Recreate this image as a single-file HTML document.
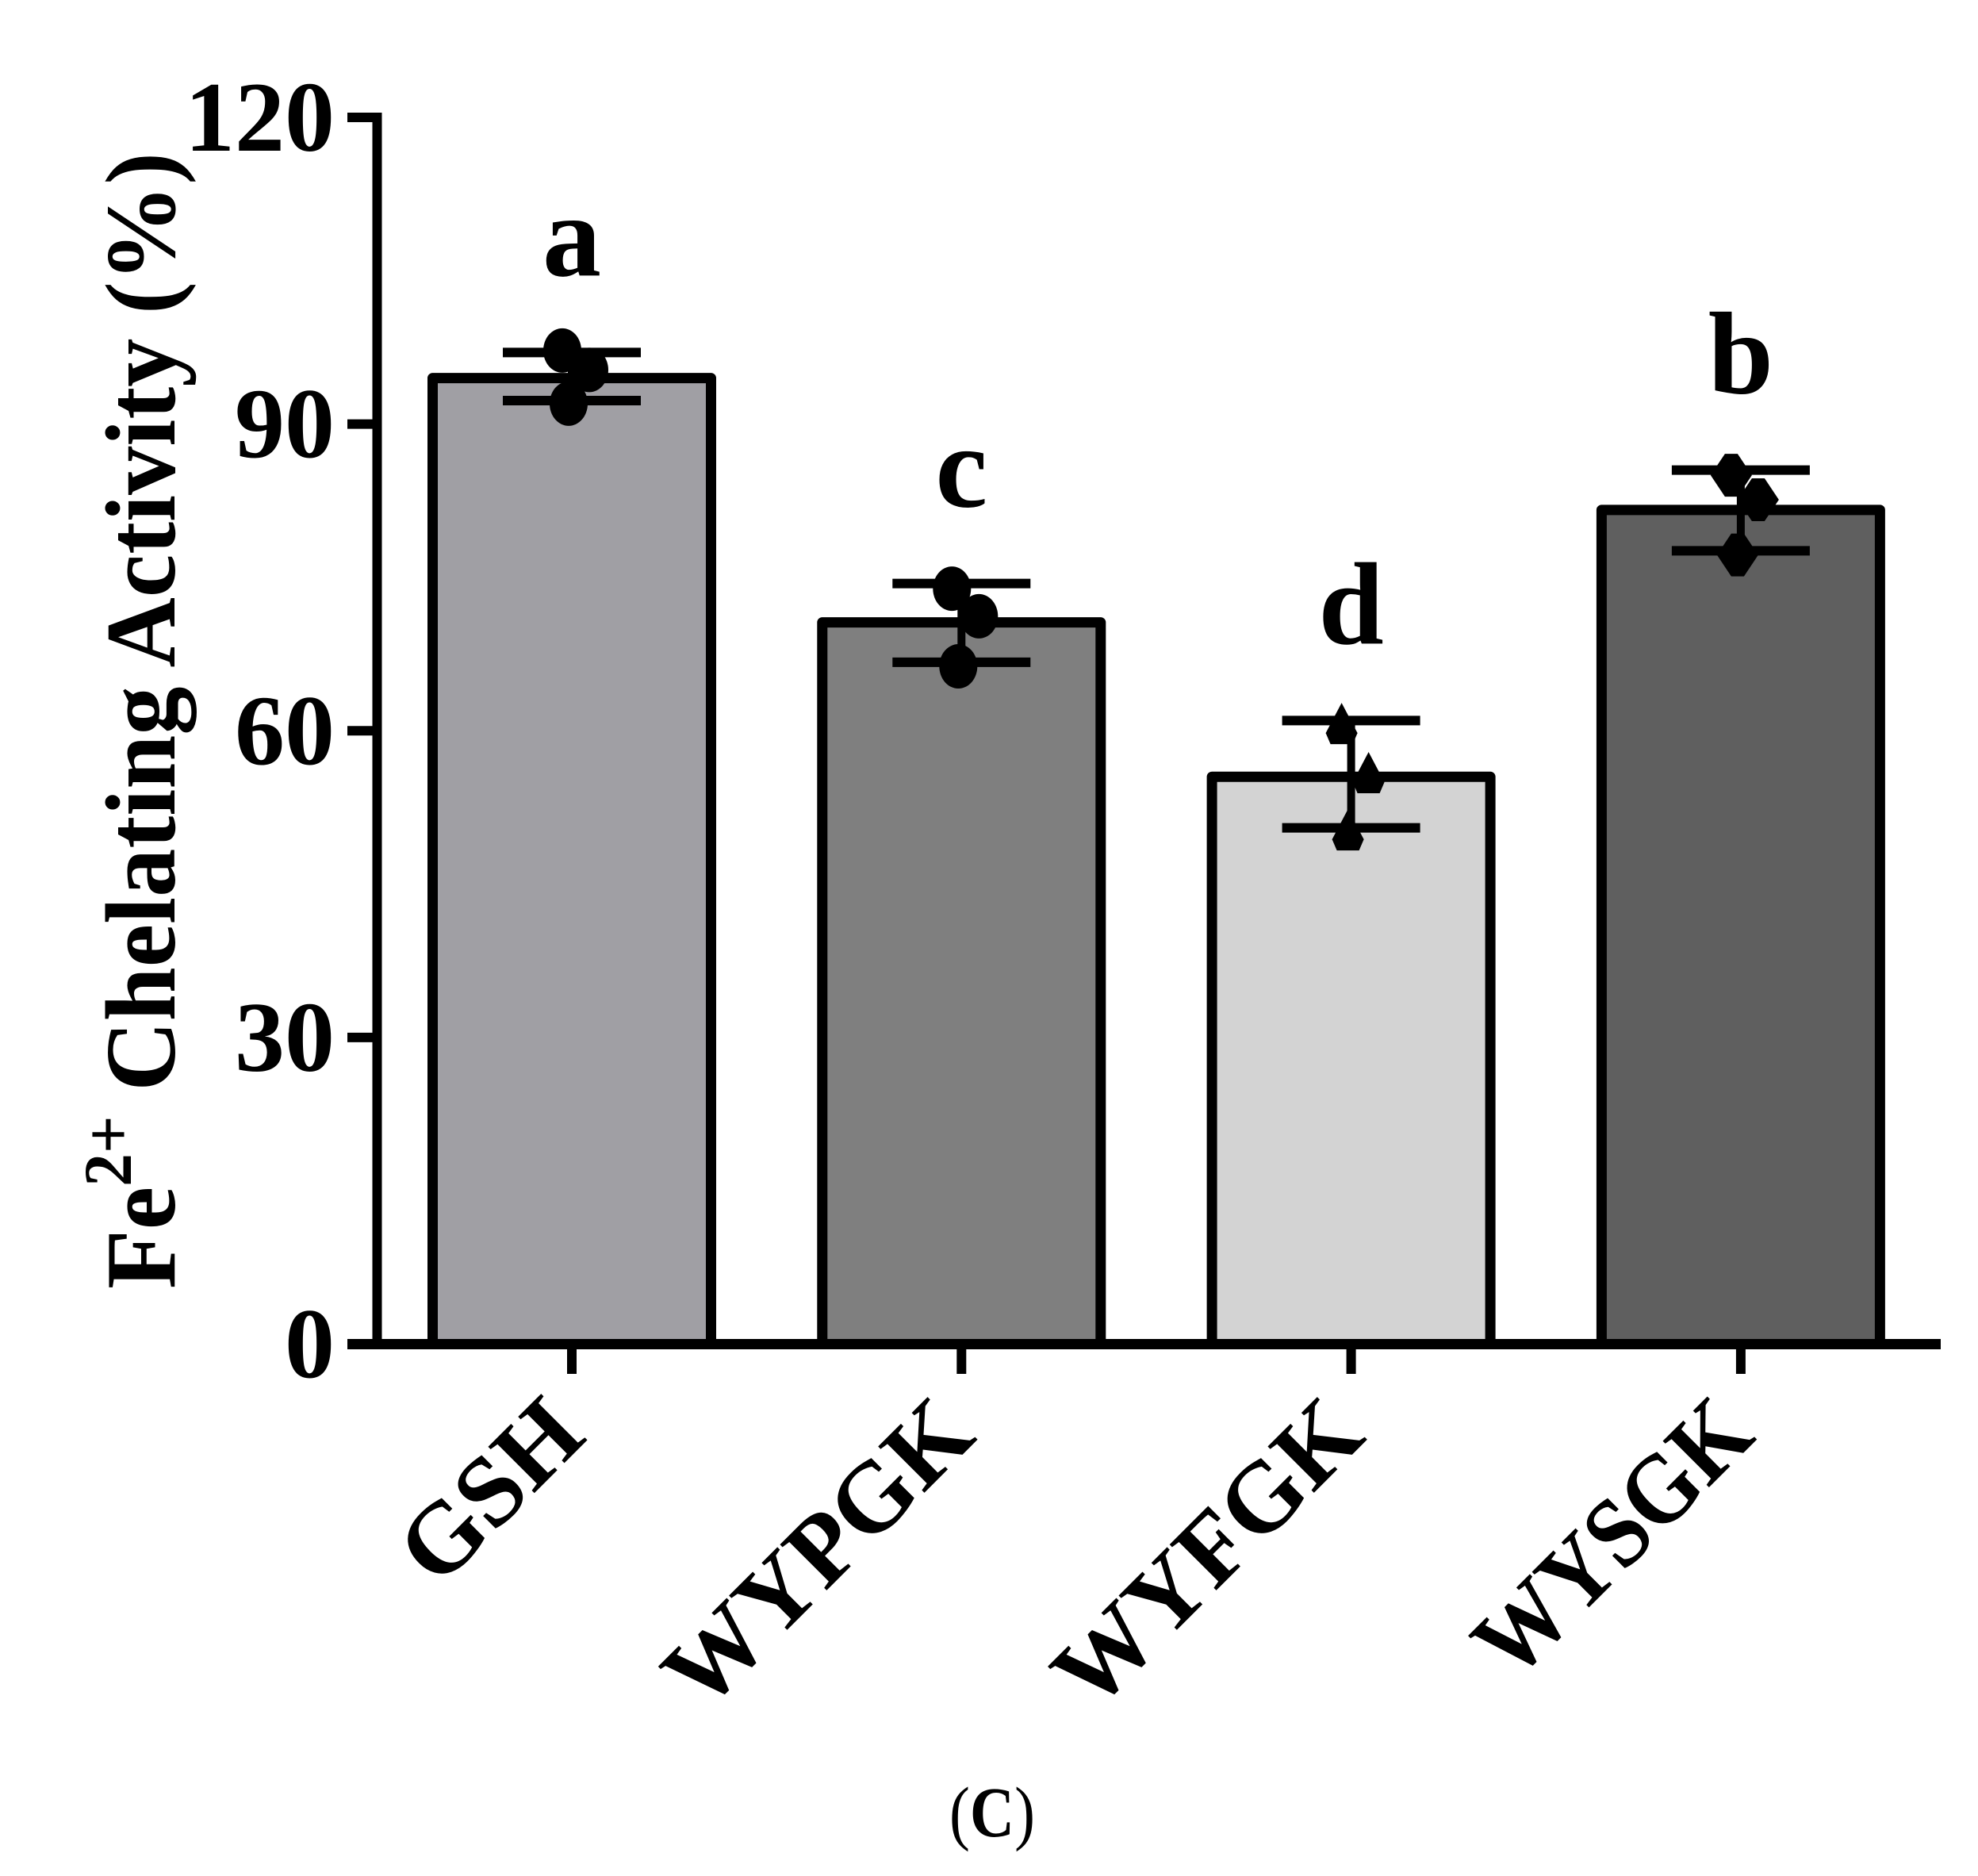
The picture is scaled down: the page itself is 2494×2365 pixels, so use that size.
<!DOCTYPE html>
<html><head><meta charset="utf-8"><style>
html,body{margin:0;padding:0;background:#fff;}
svg{display:block;}
text{font-family:"Liberation Serif","Times New Roman",Times,serif;font-weight:bold;fill:#000;}
</style></head><body>
<svg id="chart" width="2494" height="2365" viewBox="0 0 2494 2365" xmlns="http://www.w3.org/2000/svg">
<g id="axes"></g>
<g id="bars"></g>
<g id="labels"></g>
<text font-family="Liberation Serif, serif" transform="translate(220,1625) rotate(-90)" font-size="126" textLength="1433" lengthAdjust="spacingAndGlyphs">Fe<tspan font-size="86" dy="-55">2+</tspan><tspan dy="55"> Chelating Activity (%)</tspan></text>
<text font-family="Liberation Serif, serif" x="1251" y="2315" font-size="90" text-anchor="middle" textLength="108" lengthAdjust="spacingAndGlyphs"><tspan font-weight="normal">(</tspan>C<tspan font-weight="normal">)</tspan></text>
</svg>
<script>
const categories = ["GSH", "WYPGK", "WYFGK", "WYSGK"];
const means = [94.5, 70.6, 55.5, 81.6];
const errUpper = [97.0, 74.4, 61.0, 85.5];
const errLower = [92.3, 66.7, 50.5, 77.6];
const points1 = [97.2, 73.9, 60.4, 85.0];
const points2 = [95.3, 71.2, 55.6, 82.6];
const points3 = [92.0, 66.3, 50.0, 77.2];
const letters = ["a", "c", "d", "b"];
const yTicks = [0, 30, 60, 90, 120];
const fills = ["#a09fa4", "#7f7f7f", "#d3d3d3", "#5f5f5f"];
const catWidths = [268, 490, 490, 435];

const NS = "http://www.w3.org/2000/svg";
const y0 = 1694.5, y120 = 148;
function yScale(v){ return y0 - (y0 - y120) * v / 120; }
function xScale(i){ return 721 + i * 491.3; }
function mk(tag, attrs, parent){ const e = document.createElementNS(NS, tag); for (const k in attrs) e.setAttribute(k, attrs[k]); parent.appendChild(e); return e; }

const axes = document.getElementById("axes");
const bars = document.getElementById("bars");
const labels = document.getElementById("labels");

let yl = mk("line", {x1:475.5, y1:y120-6, x2:475.5, y2:y0+6, stroke:"#000", "stroke-width":12}, axes);


yTicks.forEach(t => {
  const y = yScale(t);
  const tk = mk("line", {x1:438, y1:y, x2:476, y2:y, stroke:"#000", "stroke-width":12}, axes);
  
  
  const s = String(t);
  const lb = mk("text", {x:422, y:y+42, "font-size":126, "text-anchor":"end", textLength:63*s.length, lengthAdjust:"spacingAndGlyphs"}, axes);
  lb.textContent = s;
  
  
});
let xl = mk("line", {x1:438, y1:y0, x2:2447, y2:y0, stroke:"#000", "stroke-width":13}, axes);



categories.forEach((c, i) => {
  const cx = xScale(i);
  const top = yScale(means[i]);
  const r = mk("rect", {x:cx-175.5, y:top, width:351, height:y0-top, fill:fills[i], stroke:"#000", "stroke-width":13, "stroke-linejoin":"round"}, bars);
  
  

  const tk = mk("line", {x1:cx, y1:y0, x2:cx, y2:1732, stroke:"#000", "stroke-width":12}, axes);
  
  

  const eu = yScale(errUpper[i]), el = yScale(errLower[i]);
  const ev = mk("line", {x1:cx, y1:eu, x2:cx, y2:el, stroke:"#000", "stroke-width":10}, bars);
  
  
  [eu, el].forEach(yy => {
    const cap = mk("line", {x1:cx-87, y1:yy, x2:cx+87, y2:yy, stroke:"#000", "stroke-width":12}, bars);
    
    
  });

  const pts = [[points1[i], -12], [points2[i], 22], [points3[i], -4]];
  pts.forEach(p => {
    const px = cx + p[1], py = yScale(p[0]);
    let m;
    if (i <= 1) {
      m = mk("ellipse", {cx:px, cy:py, rx:24, ry:28, fill:"#000"}, bars);
    } else if (i === 2) {
      m = mk("polygon", {points:`${px},${py-30} ${px+20},${py+8} ${px+14},${py+22} ${px-14},${py+22} ${px-20},${py+8}`, fill:"#000"}, bars);
    } else {
      m = mk("polygon", {points:`${px-8},${py-27} ${px+8},${py-27} ${px+26},${py} ${px+8},${py+27} ${px-8},${py+27} ${px-26},${py}`, fill:"#000"}, bars);
    }
    
    
  });

  const lt = mk("text", {x:cx, y:eu-97, "font-size":148, "text-anchor":"middle"}, labels);
  lt.textContent = letters[i];
  
  

  const ax = cx + 21, ay = 1814;
  const xlb = mk("text", {x:ax, y:ay, "font-size":126, "text-anchor":"end", textLength:catWidths[i], lengthAdjust:"spacingAndGlyphs", transform:`rotate(-45 ${ax} ${ay})`}, labels);
  xlb.textContent = c;
  
  
});
</script>
</body></html>
